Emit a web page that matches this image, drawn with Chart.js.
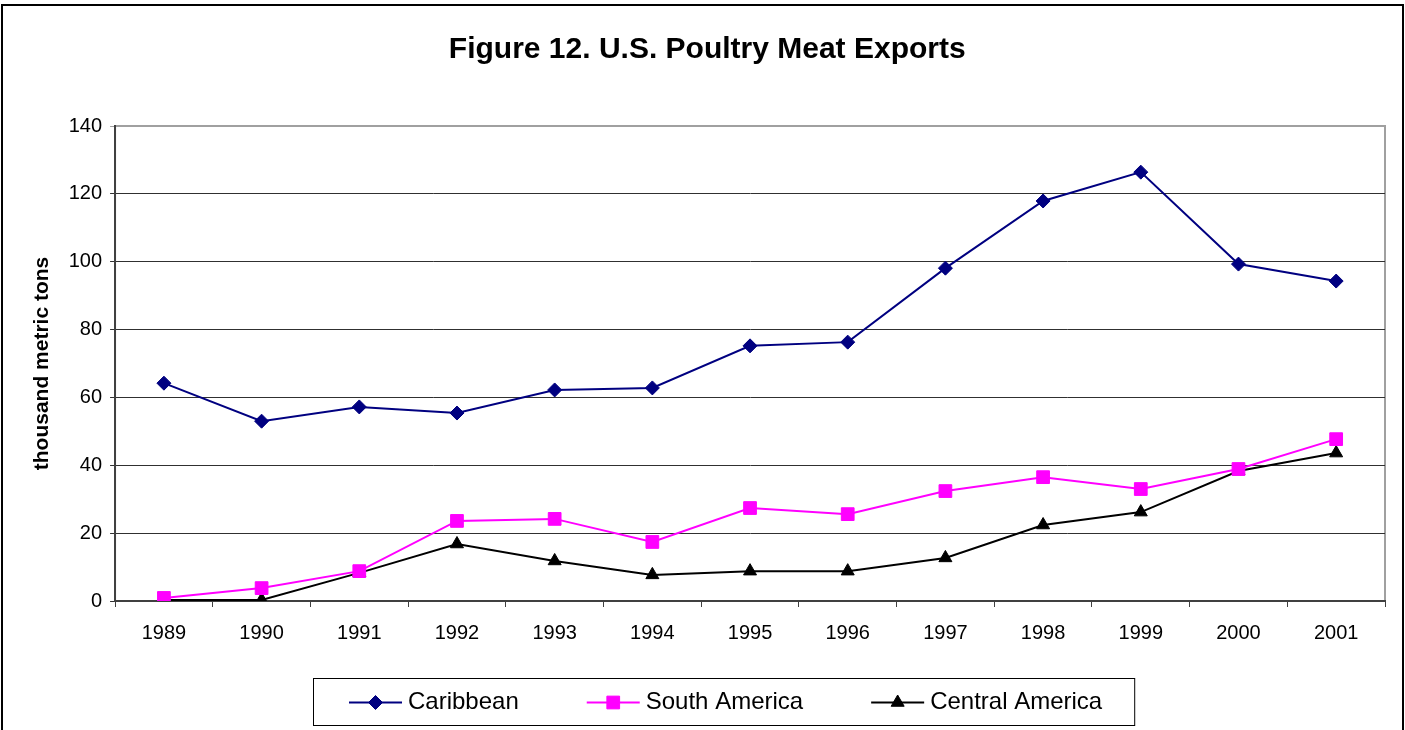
<!DOCTYPE html>
<html>
<head>
<meta charset="utf-8">
<script src="https://cdn.jsdelivr.net/npm/chart.js@4/dist/chart.umd.min.js"></script>
<style>
  body { margin: 0; background: #fff; }
  #wrap { width: 1405px; height: 730px; position: relative; }
</style>
</head>
<body>
<div id="wrap"><canvas id="chart" width="1405" height="730"></canvas></div>
<script>
// datos (miles de toneladas)
const years = ["1989", "1990", "1991", "1992", "1993", "1994", "1995", "1996", "1997", "1998", "1999", "2000", "2001"];
const caribbean = [64.2, 53.0, 57.2, 55.4, 62.2, 62.8, 75.2, 76.3, 98.1, 117.9, 126.4, 99.3, 94.3];
const southAmerica = [0.9, 3.8, 8.8, 23.6, 24.2, 17.4, 27.4, 25.6, 32.4, 36.5, 33.0, 38.9, 47.7];
const centralAmerica = [0.3, 0.3, 8.3, 16.8, 11.8, 7.7, 8.8, 8.8, 12.7, 22.4, 26.2, 38.3, 43.6];
const yTicks = [0, 20, 40, 60, 80, 100, 120, 140];

const FONT = "'Liberation Sans', Arial, sans-serif";

// marco exterior + borde gris del area de trazado
const framePlugin = {
  id: "frame",
  beforeDraw(chart) {
    const ctx = chart.ctx;
    const a = chart.chartArea;
    ctx.save();
    ctx.fillStyle = "#fff";
    ctx.fillRect(0, 0, chart.width, chart.height);
    ctx.strokeStyle = "#000";
    ctx.lineWidth = 2;
    ctx.strokeRect(2, 5, chart.width - 4, chart.height + 20);
    ctx.strokeStyle = "#a0a0a0";
    ctx.lineWidth = 2;
    ctx.strokeRect(a.left, a.top, a.right - a.left, a.bottom - a.top);
    ctx.restore();
  }
};

// leyenda con linea + marcador dentro de un recuadro
const legendBox = {
  id: "legendBox",
  afterDraw(chart) {
    const ctx = chart.ctx;
    ctx.save();
    ctx.font = "24px " + FONT;
    ctx.textBaseline = "middle";
    const top = 678, bottom = 725, left = 313;
    const cy = (top + bottom) / 2 + 1;
    let x = left + 36;
    chart.data.datasets.forEach((ds, i) => {
      ctx.strokeStyle = ds.borderColor;
      ctx.lineWidth = 2;
      ctx.beginPath();
      ctx.moveTo(x, cy);
      ctx.lineTo(x + 53, cy);
      ctx.stroke();
      ctx.fillStyle = ds.backgroundColor;
      ctx.strokeStyle = ds.borderColor;
      ctx.lineWidth = 1;
      Chart.helpers.drawPoint(ctx, { pointStyle: ds.pointStyle, radius: ds.pointRadius, borderWidth: 1 }, x + 26.5, cy);
      ctx.fillStyle = "#000";
      ctx.fillText(ds.label, x + 59, cy);
      x += 59 + ctx.measureText(ds.label).width;
      if (i < chart.data.datasets.length - 1) x += 68;
    });
    ctx.strokeStyle = "#000";
    ctx.lineWidth = 1;
    ctx.strokeRect(left + 0.5, top + 0.5, x + 32 - left, bottom - top);
    ctx.restore();
  }
};

new Chart(document.getElementById("chart"), {
  type: "line",
  data: {
    labels: years,
    datasets: [
      {
        label: "Caribbean",
        data: caribbean,
        borderColor: "#000080",
        backgroundColor: "#000080",
        borderWidth: 2,
        pointStyle: "rectRot",
        pointRadius: 7,
        pointBorderWidth: 1,
        tension: 0
      },
      {
        label: "South America",
        data: southAmerica,
        borderColor: "#ff00ff",
        backgroundColor: "#ff00ff",
        borderWidth: 2,
        pointStyle: "rect",
        pointRadius: 9,
        pointBorderWidth: 1,
        tension: 0
      },
      {
        label: "Central America",
        data: centralAmerica,
        borderColor: "#000000",
        backgroundColor: "#000000",
        borderWidth: 2,
        pointStyle: "triangle",
        pointRadius: 7.5,
        pointBorderWidth: 1,
        tension: 0
      }
    ]
  },
  options: {
    responsive: false,
    animation: false,
    layout: { padding: { left: 29.5, right: 20, top: 0, bottom: 71 } },
    plugins: {
      legend: { display: false },
      tooltip: { enabled: false },
      title: {
        display: true,
        text: "Figure 12. U.S. Poultry Meat Exports",
        color: "#000",
        font: { family: FONT, size: 30, weight: "bold" },
        padding: { top: 32, bottom: 58 }
      }
    },
    scales: {
      x: {
        offset: true,
        grid: {
          offset: true,
          drawOnChartArea: false,
          tickLength: 6,
          color: "#404040",
          lineWidth: 1
        },
        border: { color: "#404040", width: 2 },
        ticks: {
          color: "#000",
          font: { family: FONT, size: 20 },
          padding: 14,
          maxRotation: 0
        }
      },
      y: {
        min: 0,
        max: 140,
        afterBuildTicks(axis) {
          axis.ticks = yTicks.map(v => ({ value: v }));
        },
        grid: {
          tickLength: 5,
          color: ctx => (ctx.tick && ctx.tick.value === 140 ? "#a0a0a0" : "#303030"),
          lineWidth: 1
        },
        border: { color: "#404040", width: 2 },
        ticks: {
          color: "#000",
          font: { family: FONT, size: 20 },
          padding: 8
        },
        title: {
          display: true,
          text: "thousand metric tons",
          color: "#000",
          font: { family: FONT, size: 21, weight: "bold" },
          padding: { top: 0, bottom: 6 }
        }
      }
    }
  },
  plugins: [framePlugin, legendBox]
});
</script>
</body>
</html>
